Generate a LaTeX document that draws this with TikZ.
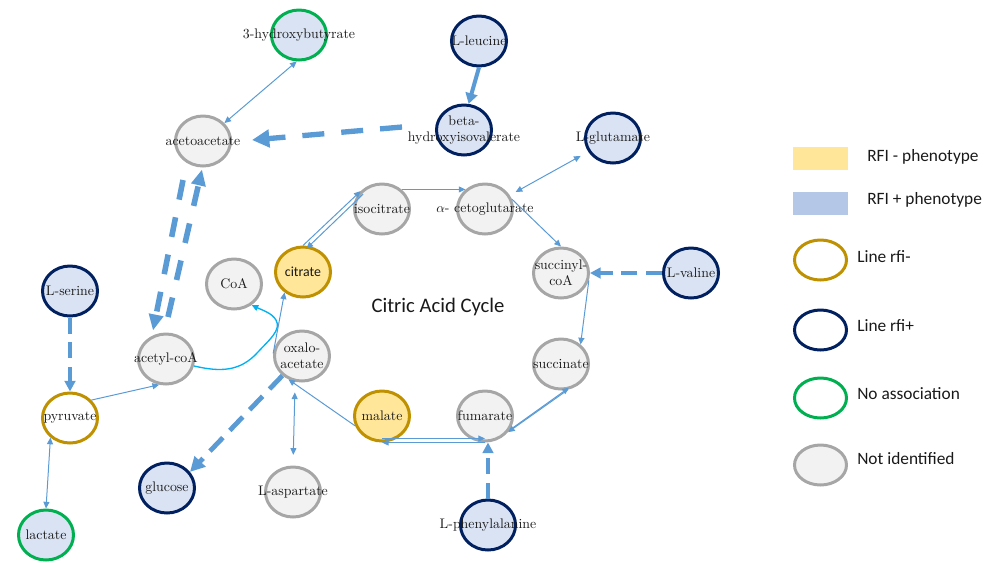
\documentclass[tikz,border=0pt]{standalone}
\usepackage{fontspec}
\newfontfamily\calib{Carlito}
\usetikzlibrary{shapes.geometric,arrows.meta,calc}
\definecolor{navy}{HTML}{002060}
\definecolor{gold}{HTML}{BF9000}
\definecolor{grn}{HTML}{00B050}
\definecolor{gry}{HTML}{A6A6A6}
\definecolor{fblue}{HTML}{DAE3F3}
\definecolor{fyel}{HTML}{FFE699}
\definecolor{fgray}{HTML}{F2F2F2}
\definecolor{arr}{HTML}{5B9BD5}
\definecolor{cyanl}{HTML}{00B0F0}
\definecolor{lblue}{HTML}{B4C7E7}
\tikzset{
  mtext/.style={font=\fontsize{10.4}{11.8}\selectfont, text=black!90, inner sep=0pt, align=center},
  met/.style={ellipse, minimum width=41.25pt, minimum height=37.5pt, inner sep=0pt, line width=2.25pt, label={[mtext]center:{#1}}},
  fb/.style={fill=fblue}, fy/.style={fill=fyel}, fg/.style={fill=fgray}, fw/.style={fill=white},
  sn/.style={draw=navy}, sg/.style={draw=gold}, sgr/.style={draw=grn}, sy/.style={draw=gry},
  thinline/.style={draw=arr, line width=0.75pt},
  thintip/.tip={Triangle[length=5pt,width=4.5pt]},
  medtip/.tip={Triangle[length=8pt,width=8pt]},
  bigdash/.style={draw=arr, line width=4pt, dash pattern=on 16.5pt off 12.75pt},
  pairdash/.style={draw=arr, line width=4.2pt, dash pattern=on 15pt off 13.5pt},
  meddash/.style={draw=arr, line width=3pt, dash pattern=on 12pt off 6.5pt},
  glcdash/.style={draw=arr, line width=3.6pt, dash pattern=on 14pt off 7.5pt},
  legtext/.style={font=\calib\fontsize{13}{15}\selectfont, text=black!90, anchor=west, inner sep=0pt},
  legell/.style={ellipse, minimum width=39pt, minimum height=30pt, inner sep=0pt, line width=2.25pt},
  legbox/.style={minimum width=41.25pt, minimum height=17.25pt, inner sep=0pt}
}
\begin{document}
\begin{tikzpicture}[x=0.75pt,y=-0.75pt]
\useasboundingbox (0,0) rectangle (992,562);
% metabolites
\node[met={3-hydroxybutyrate}, fb, sgr] (hb) at (299,35) {};
\node[met={L-leucine}, fb, sn] (leu) at (479,41) {};
\node[met={beta-\\hydroxyisovalerate}, fb, sn] (bhiv) at (464,130) {};
\node[met={acetoacetate}, fg, sy] (aa) at (203,141) {};
\node[met={L-glutamate}, fb, sn] (glu) at (613,138) {};
\node[met={isocitrate}, fg, sy] (iso) at (382,209) {};
\node[met={$\alpha$- cetoglutarate}, fg, sy] (akg) at (485,209) {};
\node[met={\calib citrate}, fy, sg] (cit) at (303,272) {};
\node[met={CoA}, fg, sy] (coa) at (234,284) {};
\node[met={succinyl-\\coA}, fg, sy] (scoa) at (561,273) {};
\node[met={L-valine}, fb, sn] (val) at (691,273) {};
\node[met={L-serine}, fb, sn] (ser) at (70,291) {};
\node[met={acetyl-coA}, fg, sy] (ac) at (166,359) {};
\node[met={oxalo-\\acetate}, fg, sy] (ox) at (302,356) {};
\node[met={succinate}, fg, sy] (succ) at (561,364) {};
\node[met={pyruvate}, fw, sg] (pyr) at (70,418) {};
\node[met={malate}, fy, sg] (mal) at (382,416) {};
\node[met={fumarate}, fg, sy] (fum) at (485,416) {};
\node[met={glucose}, fb, sn] (glc) at (167,488) {};
\node[met={L-aspartate}, fg, sy] (asp) at (293,492) {};
\node[met={lactate}, fb, sgr] (lac) at (46,535) {};
\node[met={L-phenylalanine}, fb, sn] (phe) at (488,525) {};
\node[font=\calib\fontsize{15.5}{17}\selectfont, text=black!90] (cac) at (438,307) {Citric Acid Cycle};
% connectors
\draw[thinline, {thintip}-{thintip}] (hb.265) -- (aa.40);
\draw[draw=arr, line width=3pt, -{Triangle[length=8pt,width=9pt]}] (leu.south) -- (bhiv.80);
\draw[bigdash, -{Triangle[length=13pt,width=13pt]}] ($(bhiv.west)+(-33,-3)$) -- ($(aa.east)+(20,-1)$);
\draw[pairdash, -{Triangle[length=12pt,width=10.5pt]}] ($(aa.south)+(-20,12.5)$) -- ($(ac.north)+(-13,-2)$);
\draw[pairdash, -{Triangle[length=12pt,width=10.5pt]}] ($(ac.north)+(2,-15.5)$) -- ($(aa.south)+(-1,2)$);
\draw[meddash, -{medtip}] (ser.south) -- (pyr.north);
\draw[thinline, {thintip}-{thintip}] (lac.north) -- (pyr.225);
\draw[thinline, -{thintip}] (pyr.40) -- (ac.255);
\draw[draw=cyanl, line width=1pt, -{thintip}] (ac.-14) .. controls (220,372) and (240,372) .. (258,352) .. controls (268,341) and (282,330) .. (276,320) .. controls (272,313) and (262,310) .. (coa.-50);
\draw[thinline, -{thintip}] (ox.175) -- (cit.228);
\draw[thinline, -{thintip}] (cit.north) -- (iso.140);
\draw[thinline, -{thintip}] ($(iso.140)+(2.5,3)$) -- ($(cit.north)+(3.5,3)$);
\draw[thinline, -{thintip}] (iso.45) -- (akg.135);
\draw[thinline, {thintip}-{thintip}, shorten <=6.5pt, shorten >=5pt] (glu) -- (akg);
\draw[thinline, -{thintip}] (akg.20) -- (scoa.north);
\draw[meddash, -{medtip}] (val.west) -- (scoa.east);
\draw[thinline, -{thintip}] (scoa.-15) -- (succ.45);
\draw[thinline, -{thintip}] (succ.-75) -- (fum.-35);
\draw[thinline, -{thintip}] ($(fum.-35)+(3,-3)$) -- ($(succ.-75)+(1,-2)$);
\draw[thinline, -{thintip}] (fum.south) -- (mal.south);
\draw[thinline, -{thintip}] ($(mal.south)+(0,-4)$) -- ($(fum.south)+(0,-4)$);
\draw[meddash, -{medtip}] (phe.north) -- ($(fum.south)+(3,0)$);
\draw[thinline, -{thintip}] (mal.200) -- (ox.240);
\draw[thinline, {thintip}-{thintip}, shorten <=8pt, shorten >=8pt] (ox.255) -- (asp.north);
\draw[glcdash, -{Triangle[length=11pt,width=11pt]}] (ox.225) -- (glc.35);
% legend
\node[legbox, fill=fyel] (ly) at (820.5,158.5) {};
\node[legtext] (lyt) at (867,157) {RFI - phenotype};
\node[legbox, fill=lblue] (lb) at (820.5,203.5) {};
\node[legtext] (lbt) at (867,200) {RFI + phenotype};
\node[legell, draw=gold, fill=white] (l1) at (820.5,260) {};
\node[legtext] (l1t) at (857,257) {Line rfi-};
\node[legell, draw=navy, fill=white] (l2) at (820.5,330) {};
\node[legtext] (l2t) at (857,326) {Line rfi+};
\node[legell, draw=grn, fill=white] (l3) at (820.5,398) {};
\node[legtext] (l3t) at (857,394) {No association};
\node[legell, draw=gry, fill=fgray] (l4) at (820.5,465) {};
\node[legtext] (l4t) at (857,459) {Not identified};
\end{tikzpicture}
\end{document}
